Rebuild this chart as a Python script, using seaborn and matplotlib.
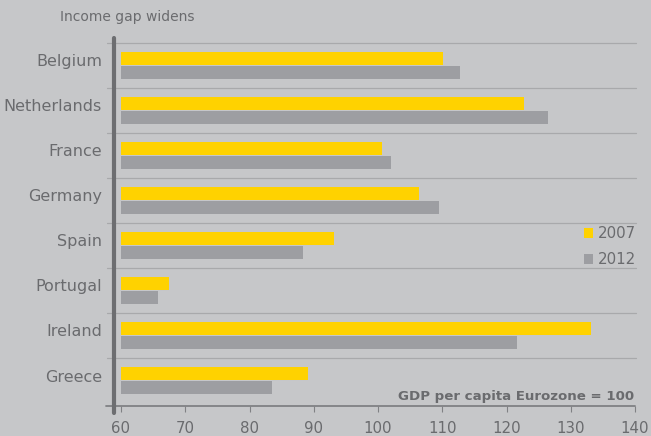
import matplotlib
matplotlib.use("Agg")
import matplotlib.pyplot as plt
from matplotlib.patches import Patch
from matplotlib.transforms import ScaledTranslation
import pandas as pd
import seaborn as sns

# GDP per capita, Eurozone average = 100
countries = ["Belgium", "Netherlands", "France", "Germany",
             "Spain", "Portugal", "Ireland", "Greece"]
gdp_2007 = [110.1, 122.7, 100.7, 106.4, 93.1, 67.4, 133.1, 89.1]
gdp_2012 = [112.8, 126.5, 102.0, 109.5, 88.3, 65.8, 121.6, 83.5]
years = ["2007", "2012"]
x_ticks = [60, 70, 80, 90, 100, 110, 120, 130, 140]
baseline = 60

title = "Income gap widens"
note = "GDP per capita Eurozone = 100"

BG = "#c6c7c9"
YELLOW = "#ffd200"
GREY_BAR = "#9d9ea2"
TEXT = "#6a6b6e"
GRID = "#a8a9ab"
AXIS = "#6d6e71"

sns.set_style("white")
plt.rcParams["font.family"] = ["DejaVu Sans"]

df = pd.DataFrame({
    "country": countries * 2,
    "value": gdp_2007 + gdp_2012,
    "year": [years[0]] * len(countries) + [years[1]] * len(countries),
})

W, H = 651, 436
fig = plt.figure(figsize=(W / 100, H / 100), dpi=100, facecolor=BG)
ax = fig.add_axes([114 / W, (H - 406) / H, (636 - 114) / W, (406 - 38) / H])
ax.set_facecolor(BG)

sns.barplot(data=df, x="value", y="country", hue="year", orient="h",
            palette=[YELLOW, GREY_BAR], width=0.6, gap=0.04,
            saturation=1, legend=False, ax=ax, order=countries)

# bars grow from the 60 baseline
for cont in ax.containers:
    for bar in cont:
        w = bar.get_width()
        bar.set_x(baseline)
        bar.set_width(w - baseline)
        bar.set_linewidth(0)

x_left = baseline - 7 / 6.425
x_right = 140 + 1 / 6.425
y_top = -0.5 - 5 / 45
y_bot = len(countries) - 0.5 + 3 / 45
ax.set_xlim(x_left, x_right)
ax.set_ylim(y_bot, y_top)

for s in ax.spines.values():
    s.set_visible(False)

# category separators
for i in range(len(countries)):
    ax.axhline(i - 0.5, xmin=-7 / 522, xmax=1, color=GRID, lw=0.9,
               clip_on=False, zorder=0.5)

# bottom axis line and thick left axis
ax.axhline(y_bot, xmin=-8 / 522, xmax=1 - 1 / 522, color="#808184", lw=1.3,
           clip_on=False, zorder=3)
ax.axvline(x_left, ymin=-7 / 368, ymax=1, color=AXIS, lw=3,
           clip_on=False, zorder=4)

ax.set_xticks(x_ticks)
ax.set_xticklabels([str(t) for t in x_ticks])
ax.tick_params(axis="x", direction="out", length=4.3, width=0.8,
               color="#808184", labelcolor=TEXT, labelsize=10.8, pad=6.5,
               bottom=True)
ax.tick_params(axis="y", length=0, labelcolor=TEXT, labelsize=11.5, pad=8.6)
ax.set_xlabel("")
ax.set_ylabel("")
ax.grid(False)

# country names sit slightly above the middle of each pair of bars
lift = ScaledTranslation(0, 5 / 100, fig.dpi_scale_trans)
for lab in ax.get_yticklabels():
    lab.set_transform(lab.get_transform() + lift)

handles = [Patch(facecolor=YELLOW, edgecolor="none"),
           Patch(facecolor=GREY_BAR, edgecolor="none")]
leg = ax.legend(handles, years, loc="upper right",
                bbox_to_anchor=(1.0, 1 - (226 - 38) / 368),
                frameon=False, fontsize=10.8, handlelength=0.65,
                handleheight=0.65, handletextpad=0.3, labelspacing=0.72,
                borderpad=0, borderaxespad=0)
for t in leg.get_texts():
    t.set_color(TEXT)

fig.text(60 / W, 1 - 17 / H, title, ha="left", va="center",
         color=TEXT, fontsize=10)
fig.text(634 / W, 1 - 396 / H, note, ha="right", va="center",
         color=TEXT, fontsize=9.6, fontweight="bold")

fig.savefig("out.png", dpi=100, facecolor=BG)
